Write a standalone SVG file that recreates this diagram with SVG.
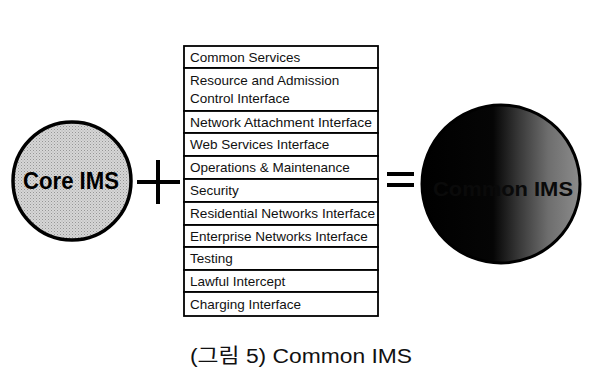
<svg xmlns="http://www.w3.org/2000/svg" width="605" height="388" viewBox="0 0 605 388">
  <style>
    .row { fill: #ffffff; stroke: #000000; stroke-width: 1.8; }
    .cell { font-family: "Liberation Sans", Arial, sans-serif; font-size: 13.5px; fill: #111111; }
    .big { font-family: "Liberation Sans", Arial, sans-serif; font-weight: bold; }
    .op { stroke: #000000; stroke-width: 4; fill: none; }
  </style>
  <defs>
    <pattern id="dots" width="3" height="3" patternUnits="userSpaceOnUse">
      <rect width="3" height="3" fill="#d6d6d6"/>
      <rect width="1" height="1" fill="#969696"/>
      <rect x="1.5" y="1.5" width="1" height="1" fill="#ababab"/>
    </pattern>
    <linearGradient id="dark" x1="0" y1="0" x2="1" y2="0">
      <stop offset="0" stop-color="#000000"/>
      <stop offset="0.45" stop-color="#050505"/>
      <stop offset="0.62" stop-color="#3a3a3a"/>
      <stop offset="0.8" stop-color="#6e6e6e"/>
      <stop offset="1" stop-color="#8c8c8c"/>
    </linearGradient>
  </defs>
  <rect width="605" height="388" fill="#ffffff"/>

  <!-- Core IMS -->
  <g id="core-ims">
    <circle cx="72" cy="181" r="59" fill="url(#dots)" stroke="#000000" stroke-width="3.5"/>
    <text class="big" x="71" y="189" text-anchor="middle" font-size="24" textLength="96" lengthAdjust="spacingAndGlyphs" fill="#000000">Core IMS</text>
  </g>

  <!-- operators -->
  <g id="plus">
    <line class="op" x1="137" y1="182" x2="180" y2="182"/>
    <line class="op" x1="158" y1="160" x2="158" y2="204"/>
  </g>
  <g id="equals">
    <line class="op" x1="387" y1="174" x2="414" y2="174"/>
    <line class="op" x1="387" y1="185" x2="414" y2="185"/>
  </g>

  <!-- interface stack -->
  <g id="stack">
    <g id="row-common-services"><rect class="row" x="184" y="46" width="194" height="22"/><text class="cell" x="190" y="62">Common Services</text></g>
    <g id="row-resource"><rect class="row" x="184" y="68" width="194" height="43"/><text class="cell" x="190" y="85">Resource and Admission</text><text class="cell" x="190" y="103">Control Interface</text></g>
    <g id="row-network-attachment"><rect class="row" x="184" y="111" width="194" height="22"/><text class="cell" x="190" y="127" textLength="182" lengthAdjust="spacingAndGlyphs">Network Attachment Interface</text></g>
    <g id="row-web-services"><rect class="row" x="184" y="133" width="194" height="23"/><text class="cell" x="190" y="149">Web Services Interface</text></g>
    <g id="row-operations"><rect class="row" x="184" y="156" width="194" height="23"/><text class="cell" x="190" y="172">Operations &amp; Maintenance</text></g>
    <g id="row-security"><rect class="row" x="184" y="179" width="194" height="23"/><text class="cell" x="190" y="195">Security</text></g>
    <g id="row-residential"><rect class="row" x="184" y="202" width="194" height="23"/><text class="cell" x="190" y="218" textLength="185" lengthAdjust="spacingAndGlyphs">Residential Networks Interface</text></g>
    <g id="row-enterprise"><rect class="row" x="184" y="225" width="194" height="22"/><text class="cell" x="190" y="241">Enterprise Networks Interface</text></g>
    <g id="row-testing"><rect class="row" x="184" y="247" width="194" height="23"/><text class="cell" x="190" y="263">Testing</text></g>
    <g id="row-lawful"><rect class="row" x="184" y="270" width="194" height="22"/><text class="cell" x="190" y="286">Lawful Intercept</text></g>
    <g id="row-charging"><rect class="row" x="184" y="292" width="194" height="24"/><text class="cell" x="190" y="309">Charging Interface</text></g>
  </g>

  <!-- Common IMS -->
  <g id="common-ims">
    <circle cx="501" cy="184" r="79" fill="url(#dark)" stroke="#000000" stroke-width="3"/>
    <text class="big" x="573" y="196" text-anchor="end" font-size="20" textLength="140" lengthAdjust="spacingAndGlyphs" fill="#0a0a0a">Common IMS</text>
  </g>

  <!-- caption -->
  <text x="301" y="363" text-anchor="middle" font-family="'Liberation Sans', 'Noto Sans CJK KR', sans-serif" font-size="20" textLength="222" lengthAdjust="spacingAndGlyphs" fill="#111111">(그림 5) Common IMS</text>
</svg>
